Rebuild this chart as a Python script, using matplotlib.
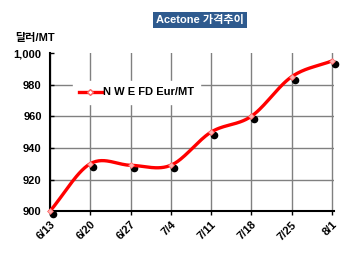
import numpy as np
import matplotlib
matplotlib.use('Agg')
import matplotlib.pyplot as plt
import matplotlib.transforms as mtransforms

plt.rcParams['font.family'] = ['Liberation Sans', 'Noto Sans CJK KR', 'DejaVu Sans']

dates = ['6/13', '6/20', '6/27', '7/4', '7/11', '7/18', '7/25', '8/1']
prices = [900, 930, 929, 929, 950, 960, 985, 995]
series_name = 'N W E FD Eur/MT'


def smooth(xs, ys, n=30):
    # catmull-rom curve through the points, like excel's smoothed line
    xs = np.asarray(xs, float)
    ys = np.asarray(ys, float)
    px = np.concatenate([[2 * xs[0] - xs[1]], xs, [2 * xs[-1] - xs[-2]]])
    py = np.concatenate([[2 * ys[0] - ys[1]], ys, [2 * ys[-1] - ys[-2]]])
    outx, outy = [], []
    t = np.linspace(0, 1, n)
    for i in range(1, len(px) - 2):
        for p, out in ((px, outx), (py, outy)):
            p0, p1, p2, p3 = p[i - 1], p[i], p[i + 1], p[i + 2]
            out.extend(0.5 * (2 * p1 + (-p0 + p2) * t
                              + (2 * p0 - 5 * p1 + 4 * p2 - p3) * t ** 2
                              + (-p0 + 3 * p1 - 3 * p2 + p3) * t ** 3))
    return outx, outy


fig = plt.figure(figsize=(3.5, 2.6), dpi=100)
ax = fig.add_axes([0.143, 0.188, 0.811, 0.608])

x = np.arange(len(dates))
sx, sy = smooth(x, prices)

# black dots sit a little below-right of the line markers
shadow = mtransforms.offset_copy(ax.transData, fig=fig, x=3, y=-3, units='dots')
ax.scatter(x, prices, s=20, color='black', zorder=3, transform=shadow, clip_on=False)
ax.plot(sx, sy, color='#ff0000', linewidth=2.4, zorder=4, clip_on=False)
ax.plot(x, prices, linestyle='none', marker='D', markersize=3,
        markerfacecolor='#ffb0b0', markeredgecolor='#ff6060', markeredgewidth=0.5,
        zorder=5, clip_on=False)

ax.set_xlim(0, 7.05)
ax.set_ylim(900, 1000)
ax.set_xticks(x)
ax.set_xticklabels(dates, rotation=45, ha='right', rotation_mode='anchor',
                   fontsize=8, fontweight='bold')
ax.set_yticks(np.arange(900, 1001, 20))
ax.set_yticklabels(['900', '920', '940', '960', '980', '1,000'],
                   fontsize=8, fontweight='bold')
ax.tick_params(axis='x', length=3, width=1, pad=3)
ax.tick_params(axis='y', direction='in', length=3, width=1, pad=6)
ax.grid(True, color='#808080', linewidth=1)
ax.yaxis.get_gridlines()[-1].set_visible(False)
ax.set_axisbelow(True)

for s in ['top', 'right']:
    ax.spines[s].set_visible(False)
for s in ['left', 'bottom']:
    ax.spines[s].set_linewidth(1.5)
    ax.spines[s].set_color('black')

# legend with white box hiding the grid
leg_line = plt.Line2D([], [], color='#ff0000', linewidth=2.4, marker='D', markersize=3,
                      markerfacecolor='white', markeredgecolor='#ff6060')
leg = ax.legend([leg_line], [series_name], loc='upper left', bbox_to_anchor=(0.06, 0.86),
                frameon=True, fancybox=False, edgecolor='white', framealpha=1,
                handlelength=2.0, handletextpad=0.1, borderpad=0.6,
                prop={'size': 8, 'weight': 'bold'})

fig.text(0.043, 0.853, '달러/MT', fontsize=8, fontweight='bold', va='center')
fig.text(0.571, 0.923, 'Acetone 가격추이', fontsize=8, fontweight='bold', color='white',
         ha='center', va='center',
         bbox=dict(boxstyle='square,pad=0.25', facecolor='#2e5a8e', edgecolor='none'))

fig.savefig('out.png', dpi=100)
